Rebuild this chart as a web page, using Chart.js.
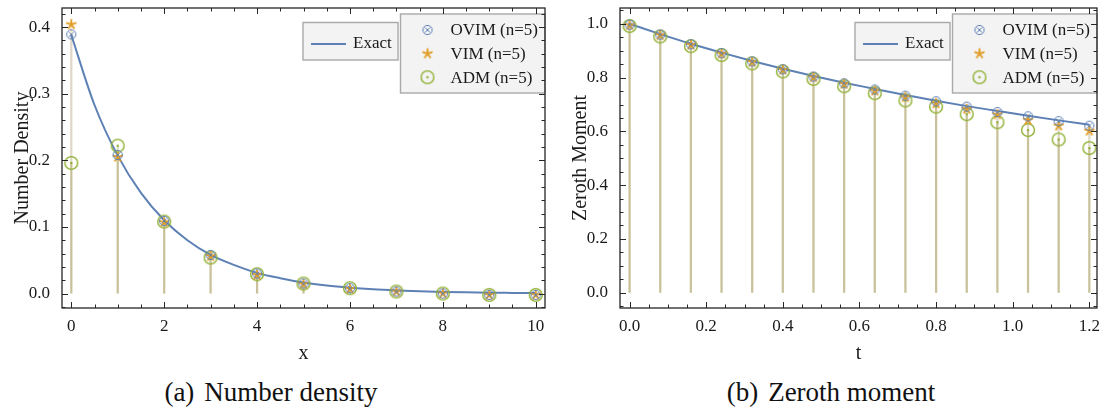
<!DOCTYPE html>
<html lang="en">
<head>
<meta charset="UTF-8">
<title>Number density and zeroth moment</title>
<script src="https://cdn.jsdelivr.net/npm/chart.js"></script>
<style>
  body { margin: 0; background: #fff; width: 1104px; height: 410px; position: relative; overflow: hidden;
         font-family: "Liberation Serif", "DejaVu Serif", serif; }
  canvas { position: absolute; top: 0; }
  #densityChart { left: 0; }
  #momentChart { left: 560px; }
  .cap { position: absolute; top: 377px; font-size: 27px; line-height: 30px; color: #111;
         white-space: nowrap; transform: translateX(-50%); }
  .cap span { margin-left: 10px; }
</style>
</head>
<body>
<canvas id="densityChart" width="552" height="370"></canvas>
<canvas id="momentChart" width="544" height="370"></canvas>
<div class="cap" style="left:271px">(a)<span>Number density</span></div>
<div class="cap" style="left:831px">(b)<span>Zeroth moment</span></div>
<script>
// (a) number density, sampled at x = 0..10
const xNodes = [0, 1, 2, 3, 4, 5, 6, 7, 8, 9, 10];
const densityOVIM = [0.389, 0.208, 0.109, 0.058, 0.030, 0.015, 0.008, 0.003, 0.000, -0.002, -0.002];
const densityVIM  = [0.404, 0.205, 0.107, 0.056, 0.028, 0.014, 0.007, 0.003, 0.000, -0.002, -0.002];
const densityADM  = [0.196, 0.222, 0.108, 0.054, 0.029, 0.015, 0.008, 0.003, 0.000, -0.002, -0.002];
// exact curve
const exactX = [0, 0.5, 1, 1.5, 2, 2.5, 3, 3.5, 4, 4.5, 5, 5.5, 6, 6.5, 7, 7.5, 8, 8.5, 9, 9.5, 10];
const exactDensity = [0.388, 0.283, 0.207, 0.151, 0.110, 0.080, 0.058, 0.043, 0.031, 0.023, 0.0165,
                      0.012, 0.0088, 0.0064, 0.0047, 0.0034, 0.0025, 0.0018, 0.0013, 0.0010, 0.0007];

// (b) zeroth moment over time
const tNodes = [0, 0.08, 0.16, 0.24, 0.32, 0.40, 0.48, 0.56, 0.64, 0.72, 0.80, 0.88, 0.96, 1.04, 1.12, 1.20];
const momentOVIM = [0.997, 0.960, 0.924, 0.891, 0.860, 0.831, 0.804, 0.779, 0.756, 0.733, 0.712, 0.692, 0.672, 0.656, 0.638, 0.621];
const momentVIM  = [0.995, 0.958, 0.922, 0.889, 0.858, 0.829, 0.801, 0.776, 0.751, 0.727, 0.704, 0.683, 0.663, 0.642, 0.621, 0.602];
const momentADM  = [0.992, 0.953, 0.917, 0.884, 0.853, 0.823, 0.795, 0.768, 0.742, 0.715, 0.692, 0.664, 0.634, 0.605, 0.570, 0.538];
const exactT = [0, 0.08, 0.16, 0.24, 0.32, 0.40, 0.48, 0.56, 0.64, 0.72, 0.80, 0.88, 0.96, 1.04, 1.12, 1.20];
const exactMoment = [1.000, 0.962, 0.926, 0.893, 0.862, 0.833, 0.806, 0.781, 0.758, 0.735, 0.714, 0.694, 0.676, 0.658, 0.641, 0.625];

const seriesNames = ['OVIM (n=5)', 'VIM (n=5)', 'ADM (n=5)'];
const exactName = 'Exact';

const BLUE = '#5e81b5', ORANGE = '#e19c24', GREEN = '#8fb032';
const SERIF = '"Liberation Serif", "DejaVu Serif", serif';

// marker glyphs used both on the plot and in the legend
function marker(kind) {
  const c = document.createElement('canvas');
  c.width = c.height = 18;
  const g = c.getContext('2d');
  g.translate(9, 9);
  if (kind === 'ovim') {
    g.strokeStyle = BLUE; g.lineWidth = 1;
    g.beginPath(); g.arc(0, 0, 4.6, 0, Math.PI * 2); g.stroke();
    g.beginPath();
    g.moveTo(-2.4, -2.4); g.lineTo(2.4, 2.4); g.moveTo(2.4, -2.4); g.lineTo(-2.4, 2.4);
    g.stroke();
  } else if (kind === 'vim') {
    g.strokeStyle = ORANGE; g.lineWidth = 1.9; g.lineCap = 'round';
    g.beginPath();
    for (let i = 0; i < 5; i++) {
      const a = -Math.PI / 2 + i * 2 * Math.PI / 5;
      g.moveTo(0, 0); g.lineTo(4.6 * Math.cos(a), 4.6 * Math.sin(a));
    }
    g.stroke();
  } else {
    g.strokeStyle = GREEN; g.lineWidth = 1.4;
    g.beginPath(); g.arc(0, 0, 6.4, 0, Math.PI * 2); g.stroke();
    g.fillStyle = GREEN;
    g.beginPath(); g.arc(0, 0, 1.2, 0, Math.PI * 2); g.fill();
  }
  return c;
}
const markers = [marker('ovim'), marker('vim'), marker('adm')];
const stemColors = ['rgba(94,129,181,0.16)', 'rgba(225,156,36,0.24)', 'rgba(160,165,70,0.36)'];

function pts(xs, ys) { return xs.map((x, i) => ({x: x, y: ys[i]})); }
function stems(xs, ys) {
  const out = [];
  xs.forEach((x, i) => { out.push({x: x, y: 0}, {x: x, y: ys[i]}, {x: x, y: null}); });
  return out;
}

function buildDatasets(xs, series, exX, exY) {
  const ds = [];
  [0, 1, 2].forEach(i => ds.push({
    type: 'scatter', label: seriesNames[i], data: pts(xs, series[i]),
    pointStyle: markers[i], pointRadius: 6, legendGroup: 'marks'
  }));
  ds.push({
    type: 'line', label: exactName, data: pts(exX, exY), borderColor: BLUE, borderWidth: 2,
    pointRadius: 0, cubicInterpolationMode: 'monotone', legendGroup: 'line'
  });
  [0, 1, 2].forEach(i => ds.push({
    type: 'line', label: 'stem', data: stems(xs, series[i]), borderColor: stemColors[i],
    borderWidth: 2.2, pointRadius: 0, tension: 0, spanGaps: false
  }));
  return ds;
}

// frame with inward ticks on all four sides
function minorValues(scale, step) {
  const out = [];
  for (let k = Math.ceil(scale.min / step - 1e-9); k * step <= scale.max + 1e-9; k++) out.push(k * step);
  return out;
}
const frameTicks = {
  id: 'frameTicks',
  afterDraw(chart, args, opts) {
    const {ctx, chartArea: a, scales: {x, y}} = chart;
    ctx.save();
    ctx.strokeStyle = '#262626';
    ctx.lineWidth = 1;
    ctx.beginPath();
    const vx = (v, len) => {
      const p = Math.round(x.getPixelForValue(v)) + 0.5;
      ctx.moveTo(p, a.bottom); ctx.lineTo(p, a.bottom - len);
      ctx.moveTo(p, a.top); ctx.lineTo(p, a.top + len);
    };
    const vy = (v, len) => {
      const p = Math.round(y.getPixelForValue(v)) + 0.5;
      ctx.moveTo(a.left, p); ctx.lineTo(a.left + len, p);
      ctx.moveTo(a.right, p); ctx.lineTo(a.right - len, p);
    };
    minorValues(x, opts.xMinor).forEach(v => vx(v, 3.5));
    minorValues(y, opts.yMinor).forEach(v => vy(v, 3.5));
    x.ticks.forEach(t => vx(t.value, 6));
    y.ticks.forEach(t => vy(t.value, 6));
    ctx.stroke();
    ctx.lineWidth = 1.3;
    ctx.strokeRect(a.left, a.top, a.right - a.left, a.bottom - a.top);
    ctx.restore();
  }
};

const legendBoxes = {
  id: 'legendBoxes',
  afterDatasetsDraw(chart) {
    const {ctx, chartArea: a} = chart;
    const ds = chart.data.datasets;
    const box = (bx, by, w, h) => {
      ctx.fillStyle = '#f3f3f3';
      ctx.fillRect(bx, by, w, h);
      ctx.strokeStyle = '#a9a9a9';
      ctx.lineWidth = 1.4;
      ctx.strokeRect(bx, by, w, h);
    };
    ctx.save();
    ctx.font = '17px ' + SERIF;
    ctx.textBaseline = 'middle';
    ctx.textAlign = 'left';
    // line legend
    const line = ds.find(d => d.legendGroup === 'line');
    const ex = a.right - 242, ey = a.top + 14.5;
    box(ex, ey, 95, 37.5);
    ctx.strokeStyle = line.borderColor;
    ctx.lineWidth = 2;
    ctx.beginPath(); ctx.moveTo(ex + 8, ey + 21.5); ctx.lineTo(ex + 43, ey + 21.5); ctx.stroke();
    ctx.fillStyle = '#1a1a1a';
    ctx.fillText(line.label, ex + 50, ey + 21.5);
    // marker legend
    const marks = ds.filter(d => d.legendGroup === 'marks');
    const mx = a.right - 144.5, my = a.top + 6;
    box(mx, my, 144.5, 79);
    marks.forEach((d, i) => {
      const cy = my + 16 + i * 23.6;
      ctx.drawImage(d.pointStyle, mx + 27 - 9, cy - 9);
      ctx.fillStyle = '#1a1a1a';
      ctx.fillText(d.label, mx + 50, cy + 1);
    });
    ctx.restore();
  }
};

function makeChart(id, cfg) {
  const tickFont = {family: SERIF, size: 17};
  const titleFont = {family: SERIF, size: 20};
  return new Chart(document.getElementById(id).getContext('2d'), {
    data: {datasets: cfg.datasets},
    options: {
      responsive: false,
      animation: false,
      events: [],
      layout: {padding: {top: 8, right: cfg.padRight, left: 0, bottom: 0}},
      plugins: {
        legend: {display: false},
        tooltip: {enabled: false},
        frameTicks: {xMinor: cfg.xMinor, yMinor: cfg.yMinor}
      },
      scales: {
        x: {
          type: 'linear', min: cfg.xMin, max: cfg.xMax,
          grid: {display: false}, border: {display: false},
          ticks: {stepSize: cfg.xStep, includeBounds: false, padding: 0, color: '#1a1a1a', font: tickFont,
                  maxRotation: 0, callback: v => v.toFixed(cfg.xDigits)},
          title: {display: true, text: cfg.xTitle, color: '#1a1a1a', font: titleFont, padding: {top: 0, bottom: 4}},
          afterFit: s => { s.height = 62; s.paddingLeft = 0; s.paddingRight = 0; }
        },
        y: {
          type: 'linear', min: cfg.yMin, max: cfg.yMax,
          grid: {display: false}, border: {display: false},
          ticks: {stepSize: cfg.yStep, includeBounds: false, padding: 4, color: '#1a1a1a', font: tickFont,
                  callback: v => v.toFixed(1)},
          title: {display: true, text: cfg.yTitle, color: '#1a1a1a', font: titleFont, padding: {top: cfg.yTitlePad, bottom: 0}},
          afterFit: s => { s.width = cfg.yWidth; s.paddingTop = 0; s.paddingBottom = 0; }
        }
      }
    },
    plugins: [legendBoxes, frameTicks]
  });
}

makeChart('densityChart', {
  datasets: buildDatasets(xNodes, [densityOVIM, densityVIM, densityADM], exactX, exactDensity),
  xMin: -0.2, xMax: 10.2, xStep: 2, xMinor: 0.5, xDigits: 0,
  yMin: -0.0217, yMax: 0.4286, yStep: 0.1, yMinor: 0.02,
  xTitle: 'x', yTitle: 'Number Density', yWidth: 62, yTitlePad: 11, padRight: 5
});

makeChart('momentChart', {
  datasets: buildDatasets(tNodes, [momentOVIM, momentVIM, momentADM], exactT, exactMoment),
  xMin: -0.025, xMax: 1.22, xStep: 0.2, xMinor: 0.05, xDigits: 1,
  yMin: -0.057, yMax: 1.059, yStep: 0.2, yMinor: 0.05,
  xTitle: 't', yTitle: 'Zeroth Moment', yWidth: 60, yTitlePad: 9, padRight: 1
});
</script>
</body>
</html>
